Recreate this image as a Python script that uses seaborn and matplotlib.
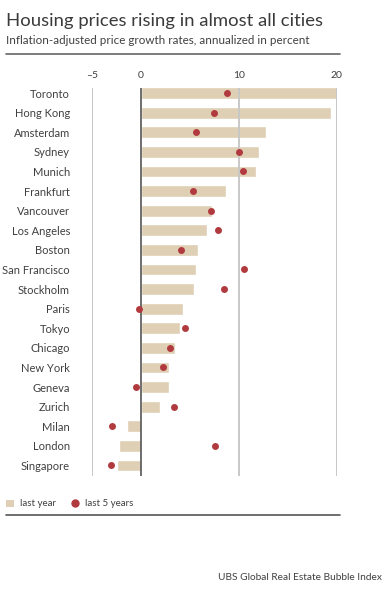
import seaborn as sns
import matplotlib.pyplot as plt
import pandas as pd
from matplotlib.lines import Line2D
from matplotlib.patches import Patch

cities = ['Toronto', 'Hong Kong', 'Amsterdam', 'Sydney', 'Munich', 'Frankfurt',
          'Vancouver', 'Los Angeles', 'Boston', 'San Francisco', 'Stockholm',
          'Paris', 'Tokyo', 'Chicago', 'New York', 'Geneva', 'Zurich', 'Milan',
          'London', 'Singapore']
last_year = [20.0, 19.4, 12.8, 12.1, 11.7, 8.7, 7.2, 6.7, 5.8, 5.6, 5.4,
             4.3, 3.95, 3.5, 2.8, 2.8, 1.9, -1.5, -2.3, -2.5]
last_5_years = [8.8, 7.45, 5.6, 10.0, 10.4, 5.3, 7.1, 7.9, 4.05, 10.5, 8.5,
                -0.2, 4.45, 2.95, 2.25, -0.5, 3.4, -2.95, 7.6, -3.1]
ticks = [-5, 0, 10, 20]

df = pd.DataFrame({'city': cities, 'last_year': last_year, 'last_5': last_5_years})

tan = '#dfcfb4'
red = '#b03a3e'
txt = '#404040'

sns.set_style('white')
plt.rcParams['font.family'] = ['Lato', 'DejaVu Sans']

W, H = 387, 592
fig = plt.figure(figsize=(W / 100, H / 100), dpi=100)
ax = fig.add_axes([92.3 / W, (H - 476) / H, (336.7 - 92.3) / W, (476 - 88) / H])

sns.barplot(data=df, x='last_year', y='city', color=tan, width=0.6,
            saturation=1, ax=ax, zorder=1)
sns.stripplot(data=df, x='last_5', y='city', color=red, size=5, jitter=False,
              linewidth=0, ax=ax, zorder=4)

for t in ticks:
    if t == 0:
        ax.axvline(t, color='#555555', lw=1.2, zorder=3)
    else:
        ax.axvline(t, color='#c8c8c8', lw=1.4, zorder=2)

ax.set_xlim(-5, 20)
ax.set_ylim(19.54, -0.26)
ax.set_xticks(ticks)
ax.set_xticklabels(['\u20135', '0', '10', '20'])
ax.xaxis.tick_top()
ax.tick_params(axis='x', length=0, pad=6, labelsize=7.5, labelcolor=txt)
ax.tick_params(axis='y', length=0, pad=16, labelsize=8, labelcolor=txt)
ax.set_xlabel('')
ax.set_ylabel('')
for s in ax.spines.values():
    s.set_visible(False)

fig.text(6 / W, 1 - 21 / H, 'Housing prices rising in almost all cities',
         fontsize=13.3, color='#3a3a3a', va='center', ha='left')
fig.text(6 / W, 1 - 41 / H, 'Inflation-adjusted price growth rates, annualized in percent',
         fontsize=8.35, color=txt, va='center', ha='left')
fig.add_artist(Line2D([6 / W, 340 / W], [1 - 54 / H, 1 - 54 / H],
                      color='#666666', lw=1.2))

handles = [Patch(facecolor=tan, edgecolor='none'),
           Line2D([], [], marker='o', color=red, ls='none', markersize=5)]
fig.legend(handles, ['last year', 'last 5 years'], loc='center left',
           bbox_to_anchor=(2 / W, 1 - 504 / H), ncol=2, frameon=False,
           fontsize=7, labelcolor=txt, handlelength=0.8, handletextpad=0.6,
           columnspacing=1.6, borderaxespad=0)
fig.add_artist(Line2D([6 / W, 340 / W], [1 - 515 / H, 1 - 515 / H],
                      color='#555555', lw=1.2))

fig.text(382 / W, 1 - 578 / H, 'UBS Global Real Estate Bubble Index',
         fontsize=7.3, color=txt, va='center', ha='right')

fig.savefig('out.png', dpi=100)
